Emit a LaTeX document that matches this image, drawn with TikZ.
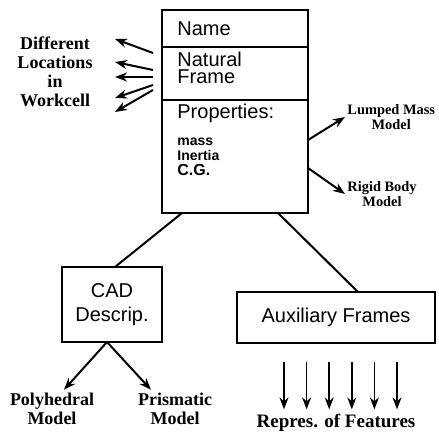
\documentclass[tikz,border=0pt]{standalone}
\usepackage{fontspec}
\setmainfont{Liberation Serif}
\setsansfont{Liberation Sans}
\usetikzlibrary{arrows.meta,positioning}

\begin{document}
\begin{tikzpicture}[x=0.5pt,y=-0.5pt,>={Stealth[length=6pt,width=4.5pt]},
  cell/.style={draw, line width=0.8pt, minimum width=73pt, outer sep=0pt, inner sep=0pt},
  boxtext/.style={font=\sffamily\fontsize{10}{8.5}\selectfont, inner sep=0pt, align=left},
  smalltext/.style={font=\sffamily\bfseries\fontsize{7}{7.5}\selectfont, inner sep=0pt, align=left},
  sidetext/.style={font=\bfseries\fontsize{9}{9.5}\selectfont, align=center, inner sep=0pt},
  smalllabel/.style={font=\bfseries\fontsize{7.2}{6.5}\selectfont, align=center, inner sep=1pt},
  link/.style={line width=1pt}]
\useasboundingbox (0,0) rectangle (438,448);

\node[cell, anchor=north, minimum height=18.5pt] (namecell) at (235,10) {};
\node[cell, anchor=north, minimum height=26.5pt] (framecell) at (namecell.south) {};
\node[cell, anchor=north, minimum height=56.5pt] (propcell) at (framecell.south) {};

\node[boxtext, right=7.5pt of namecell.west] (name) {Name};
\node[boxtext, below right=2.5pt and 7.5pt of framecell.north west] (natural) {Natural\\Frame};
\node[boxtext, below right=2pt and 7.5pt of propcell.north west] (props) {Properties:};
\node[smalltext, below right=7pt and 0pt of props.south west] (propvals) {mass\\Inertia\\{\fontsize{8}{8}\selectfont C.G.}};

\node[sidetext] (locs) at (55,72) {Different\\Locations\\in\\Workcell};
\foreach \a/\b in {-20.5/-34.5, -3.5/-11.5, 3.5/3.5, 11.5/24.5, 16.5/38.5}
  \draw[->, link] ([shift={(-9,\a)}]framecell.west) -- ([shift={(-47,\b)}]framecell.west);

\node[smalllabel, anchor=west] (lumped) at (345,117) {Lumped Mass\\Model};
\node[smalllabel, anchor=west] (rigid) at (345,194) {Rigid Body\\Model};
\draw[->, link] ([yshift=-20pt]propcell.north east) -- (lumped.west);
\draw[->, link] ([yshift=-34pt]propcell.north east) -- (rigid.west);

\node[cell, minimum width=50pt, minimum height=37.5pt, align=center,
  font=\sffamily\fontsize{10}{12}\selectfont] (cad) at (112,304.5) {CAD\\Descrip.};
\node[cell, minimum width=99pt, minimum height=25.5pt,
  font=\sffamily\fontsize{10}{12}\selectfont] (aux) at (336,317.5) {Auxiliary Frames};
\draw[link] ([xshift=10pt]propcell.south west) -- ([xshift=26.5pt]cad.north west);
\draw[link] ([xshift=58pt]propcell.south west) -- ([xshift=60.5pt]aux.north west);

\node[sidetext] (poly) at (52,409) {Polyhedral\\Model};
\node[sidetext] (prism) at (175,409) {Prismatic\\Model};
\draw[->, link] ([xshift=-2.5pt]cad.south) -- ([shift={(12,-3)}]poly.north);
\draw[->, link] ([xshift=-2.5pt]cad.south) -- ([shift={(-24,-3)}]prism.north);

\node[sidetext, font=\bfseries\fontsize{9.5}{10}\selectfont] (repres) at (336,423) {Repres. of Features};
\foreach \i in {0,...,5}
  \draw[->, line width=0.8pt] ([shift={(-52+22.6*\i,19)}]aux.south) -- ([shift={(-52+22.6*\i,-4.5)}]repres.north);
\end{tikzpicture}
\end{document}
